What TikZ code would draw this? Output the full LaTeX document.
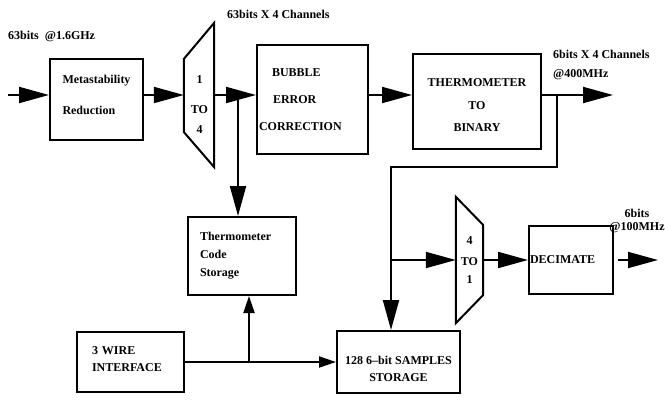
\documentclass[tikz,border=0pt]{standalone}
\usepackage{fontspec}
\setmainfont{Liberation Serif}
\usepackage{tikz}
\usetikzlibrary{arrows.meta,calc,positioning}

\begin{document}
\begin{tikzpicture}[x=1pt,y=-1pt,font=\bfseries\fontsize{12}{14}\selectfont,
  box/.style={draw,line width=2pt,inner sep=0pt,align=center},
  arr/.style={line width=2pt,-{Triangle[length=30pt,width=16pt]}},
  arrs/.style={line width=2pt,-{Triangle[length=17pt,width=11pt]}},
  lbl/.style={inner sep=0pt,align=left}]
\useasboundingbox (0,0) rectangle (665,407);
\node[box,minimum width=93pt,minimum height=81pt,align=left] (meta) at (96.5,99.5) {Metastability\\[17pt]Reduction\rule[-10pt]{0pt}{10pt}};
\node[minimum width=30pt,minimum height=144pt,inner sep=0pt] (mux1) at (199,95) {};
\draw[line width=2pt] ([yshift=36pt]mux1.west) -- (mux1.north east) -- (mux1.south east) -- ([yshift=-37pt]mux1.west) -- cycle;
\node[inner sep=0pt,align=center] (mux1txt) at (199.5,105) {1\\[16pt]TO\\[6pt]4};
\node[box,minimum width=111pt,minimum height=109pt,text width=107pt,inner xsep=2pt,align=left] (bubble) at (312.5,99.5) {\hspace*{13pt}BUBBLE\\[13pt]\hspace*{14pt}ERROR\\[13pt]CORRECTION};
\node[box,minimum width=128pt,minimum height=95pt] (thermo) at (477,101.5) {\rule{0pt}{16pt}THERMOMETER\\[8.5pt]TO\\[8.5pt]BINARY};
\node[box,minimum width=108pt,minimum height=78pt,text width=84pt,inner xsep=12pt,align=left] (tcs) at (242,256) {Thermometer\\[4pt]Code\\[4pt]Storage};
\node[box,minimum width=107pt,minimum height=60pt,text width=77pt,inner xsep=15pt,align=left] (wire) at (130.5,362) {3 WIRE\\[3pt]INTERFACE\rule[-5pt]{0pt}{5pt}};
\node[box,minimum width=123pt,minimum height=62pt] (storage) at (398.5,362) {\rule{0pt}{22pt}128 6–bit SAMPLES\\[3pt]STORAGE};
\node[minimum width=27pt,minimum height=126pt,inner sep=0pt,align=center] (mux2) at (469.5,260) {4\\[7pt]TO\\[4pt]1};
\draw[line width=2pt] (mux2.north west) -- ([yshift=35pt]mux2.east) -- ([yshift=-35pt]mux2.east) -- (mux2.south west) -- cycle;
\node[box,minimum width=84pt,minimum height=68pt,text width=82pt,inner xsep=1pt,align=left] (decim) at (571,260) {DECIMATE};
\node[lbl,anchor=north west] (rate1) at (8,31) {63bits\ \ @1.6GHz};
\node[lbl,anchor=north west] (rate2) at (227,10) {63bits X 4 Channels};
\node[lbl,anchor=north west] (rate3) at (553,50) {6bits X 4 Channels\\[4.5pt]@400MHz};
\node[inner sep=0pt,align=center,anchor=north] (rate4) at (637,209) {6bits\\[-1pt]@100MHz};
\coordinate (in) at (8,95);
\coordinate (tap1) at (238,95);
\coordinate (tap2) at (557,95);
\coordinate (out1) at (613,95);
\coordinate (bend) at (391,167);
\coordinate (tap3) at (249,362);
\coordinate (out2) at (658,260);
\draw[arr] (in) -- (in -| meta.west);
\draw[arr] (mux1.west -| meta.east) -- (mux1.west);
\draw[arr] (mux1.east) -- (mux1.east -| bubble.west);
\draw[arr] (tap1) -- (tap1 |- tcs.north);
\draw[arr] (bubble.east |- mux1.east) -- (thermo.west |- mux1.east);
\draw[arr] (thermo.east |- out1) -- (out1);
\draw[arr] (tap2) |- (bend) -- (bend |- storage.north);
\draw[arr] (mux2.west -| bend) -- (mux2.west);
\draw[arr] (mux2.east) -- (decim.west);
\draw[arr] ([xshift=4pt]decim.east) -- (out2);
\draw[arrs] (wire) -- (storage);
\draw[arrs] (tap3) -- (tap3 |- tcs.south);
\end{tikzpicture}
\end{document}
